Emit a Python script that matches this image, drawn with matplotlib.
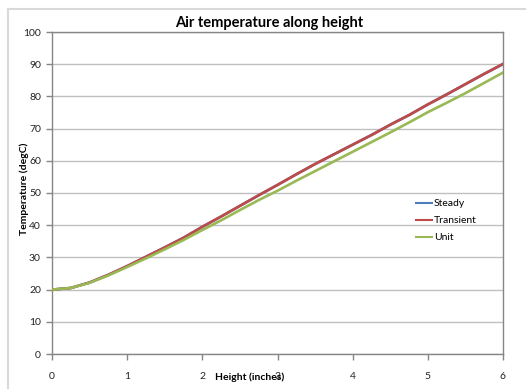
import matplotlib
matplotlib.use("Agg")
import matplotlib.pyplot as plt
from matplotlib.lines import Line2D

height = [0, 0.25, 0.5, 0.75, 1.0, 1.25, 1.5, 1.75, 2.0, 2.25, 2.5, 2.75, 3.0,
          3.25, 3.5, 3.75, 4.0, 4.25, 4.5, 4.75, 5.0, 5.25, 5.5, 5.75, 6.0]
steady = [20.0, 20.5, 22.2, 24.6, 27.3, 30.2, 33.1, 36.1, 39.5, 42.7, 46.0, 49.3, 52.5,
          55.8, 59.0, 62.0, 65.0, 68.0, 71.2, 74.2, 77.5, 80.6, 83.8, 87.0, 90.0]
transient = [20.0, 20.5, 22.2, 24.6, 27.3, 30.2, 33.1, 36.1, 39.5, 42.7, 46.0, 49.3, 52.5,
             55.8, 59.0, 62.0, 65.0, 68.0, 71.2, 74.2, 77.5, 80.6, 83.8, 87.0, 90.1]
unit = [20.0, 20.5, 22.1, 24.4, 27.0, 29.7, 32.5, 35.4, 38.5, 41.5, 44.7, 47.8, 50.7,
        53.8, 56.8, 59.8, 62.8, 65.8, 68.8, 71.9, 75.1, 78.0, 81.0, 84.2, 87.4]
series_names = ["Steady", "Transient", "Unit"]
x_ticks = [0, 1, 2, 3, 4, 5, 6]
y_ticks = [0, 10, 20, 30, 40, 50, 60, 70, 80, 90, 100]

plt.rcParams['font.family'] = ['Lato', 'DejaVu Sans']

W, H = 526, 389
fig = plt.figure(figsize=(W / 100, H / 100), dpi=100)
fig.patch.set_facecolor('white')

# outer chart frame (top and left visible)
frame_c = '#d9d9d9'
fig.add_artist(Line2D([8 / W, 1.0], [1 - 9 / H, 1 - 9 / H], transform=fig.transFigure,
                      color=frame_c, lw=1.5))
fig.add_artist(Line2D([8 / W, 8 / W], [0, 1 - 9 / H], transform=fig.transFigure,
                      color=frame_c, lw=1.5))

left, right, top, bottom = 52, 503, 32, 354
ax = fig.add_axes([left / W, 1 - bottom / H, (right - left) / W, (bottom - top) / H])

colors = ['#4a7ebb', '#be4b48', '#98b954']
ax.plot(height, steady, color=colors[0], lw=1.9, label=series_names[0], zorder=3)
ax.plot(height, transient, color=colors[1], lw=1.9, label=series_names[1], zorder=4)
ax.plot(height, unit, color=colors[2], lw=1.9, label=series_names[2], zorder=5)

ax.set_xlim(0, 6)
ax.set_ylim(0, 100)
ax.set_xticks(x_ticks)
ax.set_yticks(y_ticks)
ax.yaxis.grid(True, color='#c0c0c0', lw=1.0)
ax.set_axisbelow(True)
for s in ax.spines.values():
    s.set_color('#868686')
    s.set_linewidth(1.0)
ax.tick_params(axis='both', direction='out', length=4, width=1, color='#868686',
               labelsize=7.5, labelcolor='#222222')
ax.tick_params(axis='x', pad=9)
ax.tick_params(axis='y', pad=4)

fig.text(269 / W, 1 - 23 / H, "Air temperature along height", ha='center', va='center',
         fontsize=10.5, fontweight='bold', color='#000000')
fig.text(250 / W, 1 - 377 / H, "Height (inches)", ha='center', va='center',
         fontsize=7.5, fontweight='bold', color='#000000')
fig.text(24 / W, 1 - 189 / H, "Temperature (degC)", ha='center', va='center',
         rotation=90, fontsize=7.5, fontweight='bold', color='#000000')

leg = ax.legend(loc='upper left', bbox_to_anchor=(416 / W, 1 - 199 / H),
                bbox_transform=fig.transFigure, frameon=False, fontsize=7.5,
                handlelength=1.5, handletextpad=0.2, labelspacing=0.75,
                borderpad=0, borderaxespad=0)
for h in leg.get_lines():
    h.set_linewidth(1.5)

fig.savefig("out.png", dpi=100)
